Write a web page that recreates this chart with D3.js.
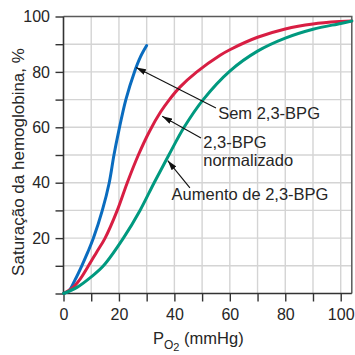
<!DOCTYPE html>
<html>
<head>
<meta charset="utf-8">
<script src="https://cdn.jsdelivr.net/npm/d3@7"></script>
<style>
  html, body { margin: 0; padding: 0; background: #fff; }
  svg { display: block; }
  text { font-family: "Liberation Sans", Arial, Helvetica, sans-serif; fill: #262626; }
</style>
</head>
<body>
<svg id="chart" width="355" height="355"></svg>
<script>
// Oxygen dissociation curves of hemoglobin (PO2 in mmHg vs. saturation in %)
const semP   = [0, 2, 4.2, 6.6, 8.8, 10.8, 14, 16.5, 18.2, 20, 22.5, 25.6, 27.8, 30];
const semS   = [0, 1, 5, 10, 15, 20, 30, 40, 50, 59, 70, 80, 85.5, 89.5];

const normP  = [0, 3, 6, 9, 12, 15, 19.4, 23, 27, 31, 35, 38.2, 42, 48.1, 56.5, 60, 70, 80, 90, 100, 104];
const normS  = [0, 1.8, 5.2, 10, 15, 20, 30, 40, 50, 58.5, 65.5, 70, 74.5, 80, 86, 88, 92.5, 95.5, 97.3, 98.2, 98.4];

const altoP  = [0, 5, 10, 14.4, 21.6, 27.6, 32.7, 38, 43.5, 50.4, 60, 70, 80, 90, 100, 104];
const altoS  = [0, 2.3, 6, 10, 20, 30, 40, 50, 60, 70, 80.3, 87.5, 92.2, 95.4, 97.5, 98.4];

const xTicks = [0, 10, 20, 30, 40, 50, 60, 70, 80, 90, 100];
const xTickLabels = [0, 20, 40, 60, 80, 100];
const yTicks = [0, 10, 20, 30, 40, 50, 60, 70, 80, 90, 100];
const yTickLabels = [20, 40, 60, 80, 100];

const seriesNames  = ["Sem 2,3-BPG", "2,3-BPG normalizado", "Aumento de 2,3-BPG"];
const seriesColors = ["#0a6cbf", "#d81e43", "#00997f"];

// callouts: text lines, text anchor point, arrow tail and arrow tip (data units)
const labelLines = [["Sem 2,3-BPG"], ["2,3-BPG", "normalizado"], ["Aumento de 2,3-BPG"]];
const labelAt    = [[55.8, 63.0], [50.4, 52.4], [39.0, 33.8]];
const arrowTail  = [[55.0, 67.0], [49.6, 56.1], [45.6, 38.1]];
const arrowTip   = [[26.2, 81.6], [35.6, 64.0], [37.6, 48.0]];

const svg = d3.select("#chart");
const x = d3.scaleLinear().domain([0, 104]).range([63.5, 351.8]);
const y = d3.scaleLinear().domain([0, 100]).range([293.5, 16.5]);

// grid
svg.append("g").selectAll("line").data(xTicks.filter(d => d > 0)).join("line")
  .attr("x1", d => x(d)).attr("x2", d => x(d)).attr("y1", y(0)).attr("y2", y(100))
  .attr("stroke", "#d4d4d4").attr("stroke-width", 1.4);
svg.append("g").selectAll("line").data(yTicks.filter(d => d > 0 && d < 100)).join("line")
  .attr("x1", x(0)).attr("x2", x(104)).attr("y1", d => y(d)).attr("y2", d => y(d))
  .attr("stroke", "#d4d4d4").attr("stroke-width", 1.4);

// frame (top and right)
svg.append("path")
  .attr("d", `M${x(0)},${y(100)}H${x(104)}V${y(0)}`)
  .attr("fill", "none").attr("stroke", "#5a5a5a").attr("stroke-width", 1.5);

// axes
const xAxis = d3.axisBottom(x).tickValues(xTicks).tickSize(8)
  .tickFormat(d => xTickLabels.includes(d) ? d : "");
const gx = svg.append("g").attr("transform", `translate(0,${y(0)})`).call(xAxis);
gx.select(".domain").attr("d", `M${x(0)},0H${x(104)}`).attr("stroke", "#333").attr("stroke-width", 1.6);
gx.selectAll(".tick line").attr("stroke", "#333").attr("stroke-width", 1.4);
gx.selectAll(".tick text").attr("font-size", 16).attr("fill", "#262626")
  .attr("font-family", "Liberation Sans, Arial, sans-serif").attr("dy", "0.95em");

const yAxis = d3.axisLeft(y).tickValues(yTicks).tickSize(8)
  .tickFormat(d => yTickLabels.includes(d) ? d : "");
const gy = svg.append("g").attr("transform", `translate(${x(0)},0)`).call(yAxis);
gy.select(".domain").attr("d", `M0,${y(0)}V${y(100)}`).attr("stroke", "#333").attr("stroke-width", 1.6);
gy.selectAll(".tick line").attr("stroke", "#333").attr("stroke-width", 1.4);
gy.selectAll(".tick text").attr("font-size", 16).attr("fill", "#262626")
  .attr("font-family", "Liberation Sans, Arial, sans-serif").attr("x", -13.5);

// axis titles
const xt = svg.append("text").attr("x", 153).attr("y", 344).attr("font-size", 16.5);
xt.append("tspan").text("P");
xt.append("tspan").attr("font-size", 12).attr("dy", 5).text("O");
xt.append("tspan").attr("font-size", 11).attr("dy", 2).text("2");
xt.append("tspan").attr("dy", -7).text(" (mmHg)");

svg.append("text")
  .attr("transform", `translate(24,${(y(0) + y(100)) / 2 + 7}) rotate(-90)`)
  .attr("text-anchor", "middle").attr("font-size", 17)
  .text("Saturação da hemoglobina, %");

// curves
const line = d3.line().x(d => x(d[0])).y(d => y(d[1])).curve(d3.curveCatmullRom.alpha(0.5));
const series = [
  d3.zip(semP, semS),
  d3.zip(normP, normS),
  d3.zip(altoP, altoS)
];
svg.append("g").selectAll("path").data(series).join("path")
  .attr("d", line).attr("fill", "none")
  .attr("stroke", (d, i) => seriesColors[i]).attr("stroke-width", 3)
  .attr("stroke-linecap", "round");

// arrows
svg.append("defs").append("marker")
  .attr("id", "head").attr("viewBox", "0 0 10 6").attr("refX", 10).attr("refY", 3)
  .attr("markerWidth", 10).attr("markerHeight", 6).attr("markerUnits", "userSpaceOnUse")
  .attr("orient", "auto")
  .append("path").attr("d", "M0,0L10,3L0,6Z").attr("fill", "#111");

svg.append("g").selectAll("line").data(seriesNames).join("line")
  .attr("x1", (d, i) => x(arrowTail[i][0])).attr("y1", (d, i) => y(arrowTail[i][1]))
  .attr("x2", (d, i) => x(arrowTip[i][0])).attr("y2", (d, i) => y(arrowTip[i][1]))
  .attr("stroke", "#111").attr("stroke-width", 1.1)
  .attr("marker-end", "url(#head)");

// callout labels
seriesNames.forEach((name, i) => {
  const t = svg.append("text")
    .attr("x", x(labelAt[i][0])).attr("y", y(labelAt[i][1])).attr("font-size", 16.5);
  labelLines[i].forEach((s, j) => {
    t.append("tspan").attr("x", x(labelAt[i][0])).attr("dy", j === 0 ? 0 : 17.4).text(s);
  });
});
</script>
</body>
</html>
